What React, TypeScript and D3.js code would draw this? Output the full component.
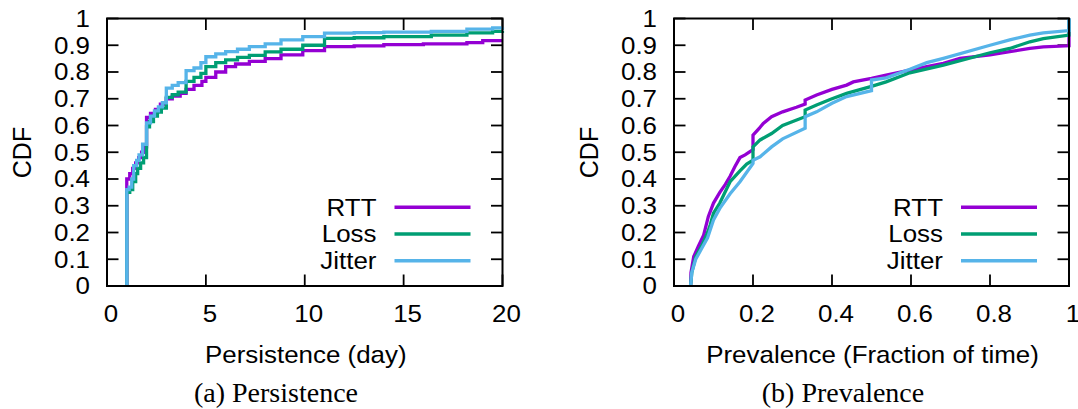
import React from "react";
import * as d3 from "d3";

// ---------- data ----------
const seriesNames = ["RTT", "Loss", "Jitter"];
const seriesColors = ["#9400D3", "#009E73", "#56B4E9"];

// Persistence (days) CDF, step points [day, cdf]
const persistRTT: [number, number][] = [
  [1, 0], [1, 0.40], [1.15, 0.42], [1.3, 0.44], [1.45, 0.46], [1.6, 0.48], [1.75, 0.50], [1.9, 0.52],
  [2, 0.63], [2.2, 0.645], [2.45, 0.66], [2.7, 0.68], [3, 0.70], [3.3, 0.71], [3.7, 0.72], [4, 0.735],
  [4.4, 0.75], [4.8, 0.765], [5, 0.78], [5.5, 0.80], [6, 0.82], [6.5, 0.83], [7.2, 0.84], [8, 0.85],
  [8.8, 0.864], [9.9, 0.88], [11, 0.895], [12.5, 0.898], [14, 0.902], [16, 0.905], [18.2, 0.91],
  [19, 0.917], [20, 0.917],
];
const persistLoss: [number, number][] = [
  [1, 0], [1, 0.35], [1.15, 0.36], [1.3, 0.39], [1.45, 0.42], [1.55, 0.44], [1.7, 0.46], [1.85, 0.48],
  [2, 0.595], [2.15, 0.615], [2.35, 0.635], [2.55, 0.65], [2.75, 0.665], [3, 0.705], [3.3, 0.715],
  [3.6, 0.725], [4, 0.765], [4.4, 0.78], [4.75, 0.795], [5, 0.82], [5.5, 0.835], [6, 0.845],
  [6.6, 0.855], [7.2, 0.862], [8, 0.875], [8.8, 0.885], [9.9, 0.90], [11, 0.926], [12.5, 0.928],
  [14, 0.932], [16.4, 0.938], [18.2, 0.946], [19.5, 0.952], [20, 0.953],
];
const persistJitter: [number, number][] = [
  [1, 0], [1, 0.36], [1.12, 0.37], [1.25, 0.40], [1.35, 0.45], [1.5, 0.47], [1.62, 0.49], [1.8, 0.53],
  [2, 0.61], [2.2, 0.635], [2.4, 0.655], [2.6, 0.67], [2.8, 0.685], [3, 0.74], [3.3, 0.75],
  [3.6, 0.76], [4, 0.805], [4.4, 0.815], [4.75, 0.835], [5, 0.857], [5.5, 0.868], [6, 0.876],
  [6.6, 0.885], [7.2, 0.895], [8, 0.905], [8.8, 0.92], [9.9, 0.932], [11, 0.945], [12.5, 0.947],
  [14, 0.949], [16.4, 0.952], [18.2, 0.96], [19.5, 0.965], [20, 0.967],
];

// Prevalence (fraction of time) CDF, points [fraction, cdf]
const prevRTT: [number, number][] = [
  [0.042, 0], [0.043, 0.05], [0.05, 0.11], [0.062, 0.15], [0.075, 0.19], [0.087, 0.26], [0.10, 0.31],
  [0.116, 0.35], [0.13, 0.38], [0.142, 0.41], [0.154, 0.446], [0.167, 0.48], [0.18, 0.49], [0.2, 0.51],
  [0.2, 0.564], [0.215, 0.588], [0.226, 0.608], [0.247, 0.633], [0.275, 0.651], [0.31, 0.668],
  [0.332, 0.68], [0.332, 0.695], [0.361, 0.714], [0.4, 0.735], [0.437, 0.751], [0.454, 0.763],
  [0.5, 0.776], [0.537, 0.788], [0.597, 0.807], [0.64, 0.82], [0.682, 0.832], [0.724, 0.851],
  [0.8, 0.864], [0.85, 0.876], [0.901, 0.888], [0.935, 0.894], [1.0, 0.898], [1.0, 1.0],
];
const prevLoss: [number, number][] = [
  [0.042, 0], [0.045, 0.05], [0.055, 0.11], [0.07, 0.15], [0.085, 0.2], [0.092, 0.23], [0.10, 0.272],
  [0.116, 0.31], [0.142, 0.39], [0.167, 0.43], [0.184, 0.456], [0.2, 0.47], [0.2, 0.52],
  [0.218, 0.546], [0.247, 0.57], [0.275, 0.6], [0.332, 0.633], [0.332, 0.658], [0.361, 0.677],
  [0.4, 0.70], [0.437, 0.72], [0.5, 0.746], [0.537, 0.763], [0.597, 0.797], [0.682, 0.826],
  [0.8, 0.872], [0.85, 0.888], [0.901, 0.913], [0.935, 0.925], [1.0, 0.938], [1.0, 1.0],
];
const prevJitter: [number, number][] = [
  [0.042, 0], [0.045, 0.05], [0.055, 0.1], [0.07, 0.14], [0.085, 0.18], [0.10, 0.247], [0.116, 0.29],
  [0.142, 0.345], [0.167, 0.39], [0.2, 0.458], [0.2, 0.47], [0.218, 0.483], [0.247, 0.52],
  [0.275, 0.55], [0.332, 0.59], [0.332, 0.633], [0.361, 0.651], [0.4, 0.683], [0.437, 0.708],
  [0.5, 0.73], [0.5, 0.77], [0.537, 0.778], [0.597, 0.81], [0.64, 0.835], [0.682, 0.851],
  [0.8, 0.9], [0.85, 0.92], [0.901, 0.938], [0.935, 0.946], [1.0, 0.955], [1.0, 1.0],
];

const yTicks = [0, 0.1, 0.2, 0.3, 0.4, 0.5, 0.6, 0.7, 0.8, 0.9, 1];
const persistXTicks = [0, 5, 10, 15, 20];
const prevXTicks = [0, 0.2, 0.4, 0.6, 0.8, 1];

// ---------- layout ----------
const W = 1078;
const H = 409;
const TOP = 18.5;
const BOTTOM = 286;
const SANS = "'Liberation Sans', Arial, Helvetica, sans-serif";
const SERIF = "'Liberation Serif', 'Times New Roman', serif";
const FS = 24;
const SX = 1.08;
const TICK = 11.5;

function SText({ x, y, anchor = "start", size = FS, children }: any) {
  return (
    <text
      transform={`translate(${x},${y}) scale(${SX},1)`}
      textAnchor={anchor}
      fontFamily={SANS}
      fontSize={size}
      fill="#000"
    >
      {children}
    </text>
  );
}

function Panel({
  left, right, xDomain, xTicks, fmt, data, step, xTitle, caption, captionX,
}: any) {
  const x = d3.scaleLinear().domain(xDomain).range([left, right]);
  const y = d3.scaleLinear().domain([0, 1]).range([BOTTOM, TOP]);
  const line = d3
    .line<[number, number]>()
    .x((d) => x(d[0]))
    .y((d) => y(d[1]))
    .curve(step ? d3.curveStepAfter : d3.curveLinear);
  const id = `clip-${left}`;
  const legendY = [207.3, 234, 260.7];
  const legendTextY = [215.7, 242.3, 269];
  return (
    <g>
      <defs>
        <clipPath id={id}>
          <rect x={left} y={TOP - 2} width={right - left + 2} height={BOTTOM - TOP + 2} />
        </clipPath>
      </defs>
      {/* ticks */}
      {yTicks.map((t) => (
        <g key={`y${t}`}>
          <line x1={left} x2={left + TICK} y1={y(t)} y2={y(t)} stroke="#000" strokeWidth={1.8} />
          <line x1={right} x2={right - TICK} y1={y(t)} y2={y(t)} stroke="#000" strokeWidth={1.8} />
          <SText x={left - 17} y={y(t) + 8.4} anchor="end">{fmt.y(t)}</SText>
        </g>
      ))}
      {xTicks.map((t: number) => (
        <g key={`x${t}`}>
          <line x1={x(t)} x2={x(t)} y1={BOTTOM} y2={BOTTOM - TICK} stroke="#000" strokeWidth={1.8} />
          <line x1={x(t)} x2={x(t)} y1={TOP} y2={TOP + TICK} stroke="#000" strokeWidth={1.8} />
          <SText x={x(t) + 4} y={322} anchor="middle">{fmt.x(t)}</SText>
        </g>
      ))}
      {/* data */}
      <g clipPath={`url(#${id})`}>
        {data.map((d: [number, number][], i: number) => (
          <path key={i} d={line(d) || ""} fill="none" stroke={seriesColors[i]} strokeWidth={3.3} strokeLinejoin="miter" />
        ))}
      </g>
      {/* legend */}
      {seriesNames.map((n, i) => (
        <g key={n}>
          <SText x={right - 126} y={legendTextY[i]} anchor="end">{n}</SText>
          <line x1={right - 108} x2={right - 32} y1={legendY[i]} y2={legendY[i]} stroke={seriesColors[i]} strokeWidth={3.6} />
        </g>
      ))}
      {/* frame */}
      <rect x={left} y={TOP} width={right - left} height={BOTTOM - TOP} fill="none" stroke="#000" strokeWidth={2} />
      {/* axis titles */}
      <SText x={(left + right) / 2 + 1} y={363} anchor="middle">{xTitle}</SText>
      <text
        transform={`translate(${left - 76.5},${152.5}) rotate(-90)`}
        textAnchor="middle"
        fontFamily={SANS}
        fontSize={25}
      >
        CDF
      </text>
      <text x={captionX} y={402} textAnchor="middle" fontFamily={SERIF} fontSize={28}>
        {caption}
      </text>
    </g>
  );
}

export default function App() {
  const yFmt = (t: number) => (t === 0 || t === 1 ? String(t) : t.toFixed(1));
  return (
    <svg
      width={W}
      height={H}
      viewBox={`0 0 ${W} ${H}`}
      style={{ position: "absolute", left: 0, top: 0, background: "#fff" }}
    >
      <rect x={0} y={0} width={W} height={H} fill="#fff" />
      <Panel
        left={107}
        right={502.5}
        xDomain={[0, 20]}
        xTicks={persistXTicks}
        fmt={{ y: yFmt, x: (t: number) => String(t) }}
        data={[persistRTT, persistLoss, persistJitter]}
        step={true}
        xTitle="Persistence (day)"
        caption="(a) Persistence"
        captionX={276}
      />
      <Panel
        left={674}
        right={1069}
        xDomain={[0, 1]}
        xTicks={prevXTicks}
        fmt={{ y: yFmt, x: (t: number) => (t === 0 || t === 1 ? String(t) : t.toFixed(1)) }}
        data={[prevRTT, prevLoss, prevJitter]}
        step={false}
        xTitle="Prevalence (Fraction of time)"
        caption="(b) Prevalence"
        captionX={843}
      />
    </svg>
  );
}
